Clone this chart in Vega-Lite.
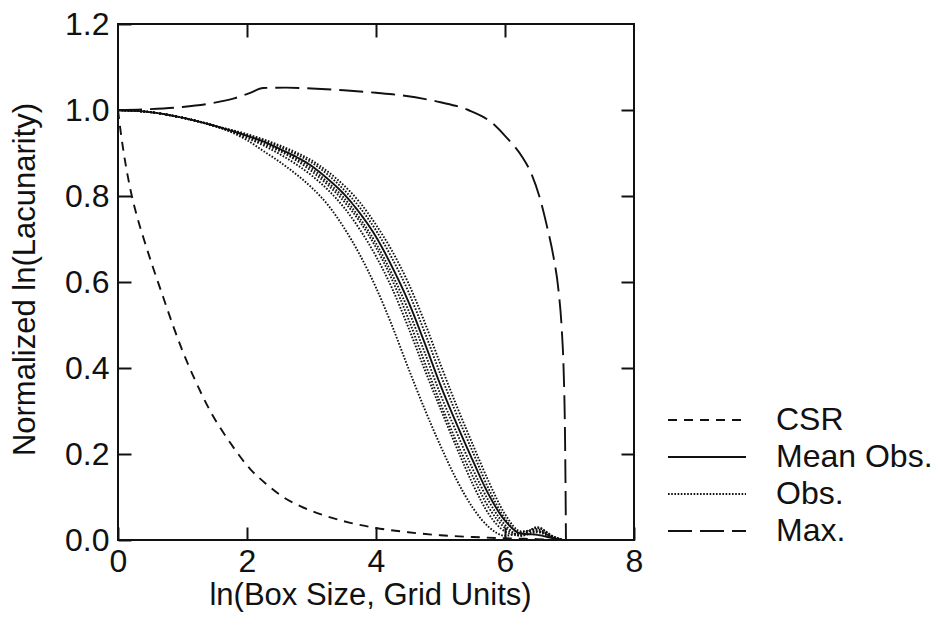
{
  "$schema": "https://vega.github.io/schema/vega-lite/v6.json",
  "width": 516,
  "height": 516,
  "autosize": {"type": "none"},
  "padding": {"left": 118, "top": 24, "right": 305, "bottom": 86},
  "background": "white",
  "config": {
    "view": {"stroke": "#111", "strokeWidth": 2},
    "font": "Liberation Sans",
    "axis": {
      "labelFont": "Liberation Sans",
      "titleFont": "Liberation Sans",
      "labelColor": "#111",
      "titleColor": "#111",
      "tickColor": "#111",
      "domain": false,
      "grid": false,
      "tickWidth": 2,
      "tickSize": -13
    },
    "legend": {
      "labelFont": "Liberation Sans",
      "labelColor": "#111"
    }
  },
  "data": {
    "values": [
      {"series": "CSR", "run": "c", "x": 0, "y": 1.0},
      {"series": "CSR", "run": "c", "x": 0.05, "y": 0.94},
      {"series": "CSR", "run": "c", "x": 0.1, "y": 0.89},
      {"series": "CSR", "run": "c", "x": 0.2, "y": 0.81},
      {"series": "CSR", "run": "c", "x": 0.3, "y": 0.75},
      {"series": "CSR", "run": "c", "x": 0.4, "y": 0.7},
      {"series": "CSR", "run": "c", "x": 0.54, "y": 0.635},
      {"series": "CSR", "run": "c", "x": 0.7, "y": 0.565},
      {"series": "CSR", "run": "c", "x": 0.85, "y": 0.5},
      {"series": "CSR", "run": "c", "x": 1.0, "y": 0.44},
      {"series": "CSR", "run": "c", "x": 1.2, "y": 0.37},
      {"series": "CSR", "run": "c", "x": 1.43, "y": 0.3},
      {"series": "CSR", "run": "c", "x": 1.74, "y": 0.226},
      {"series": "CSR", "run": "c", "x": 2.05, "y": 0.165},
      {"series": "CSR", "run": "c", "x": 2.3, "y": 0.13},
      {"series": "CSR", "run": "c", "x": 2.56, "y": 0.1},
      {"series": "CSR", "run": "c", "x": 2.85, "y": 0.077},
      {"series": "CSR", "run": "c", "x": 3.18, "y": 0.058},
      {"series": "CSR", "run": "c", "x": 3.6, "y": 0.04},
      {"series": "CSR", "run": "c", "x": 4.0, "y": 0.028},
      {"series": "CSR", "run": "c", "x": 4.5, "y": 0.018},
      {"series": "CSR", "run": "c", "x": 5.0, "y": 0.011},
      {"series": "CSR", "run": "c", "x": 5.5, "y": 0.007},
      {"series": "CSR", "run": "c", "x": 6.0, "y": 0.004},
      {"series": "CSR", "run": "c", "x": 6.5, "y": 0.002},
      {"series": "CSR", "run": "c", "x": 6.9, "y": 0.0},

      {"series": "Max.", "run": "x", "x": 0, "y": 1.0},
      {"series": "Max.", "run": "x", "x": 0.5, "y": 1.002},
      {"series": "Max.", "run": "x", "x": 1.0, "y": 1.007},
      {"series": "Max.", "run": "x", "x": 1.5, "y": 1.017},
      {"series": "Max.", "run": "x", "x": 1.8, "y": 1.027},
      {"series": "Max.", "run": "x", "x": 2.05, "y": 1.04},
      {"series": "Max.", "run": "x", "x": 2.25, "y": 1.051},
      {"series": "Max.", "run": "x", "x": 2.6, "y": 1.052},
      {"series": "Max.", "run": "x", "x": 3.0, "y": 1.05},
      {"series": "Max.", "run": "x", "x": 3.5, "y": 1.046},
      {"series": "Max.", "run": "x", "x": 4.0, "y": 1.04},
      {"series": "Max.", "run": "x", "x": 4.4, "y": 1.034},
      {"series": "Max.", "run": "x", "x": 5.0, "y": 1.018},
      {"series": "Max.", "run": "x", "x": 5.43, "y": 1.0},
      {"series": "Max.", "run": "x", "x": 5.8, "y": 0.97},
      {"series": "Max.", "run": "x", "x": 6.0, "y": 0.94},
      {"series": "Max.", "run": "x", "x": 6.27, "y": 0.89},
      {"series": "Max.", "run": "x", "x": 6.4, "y": 0.855},
      {"series": "Max.", "run": "x", "x": 6.55, "y": 0.79},
      {"series": "Max.", "run": "x", "x": 6.65, "y": 0.73},
      {"series": "Max.", "run": "x", "x": 6.75, "y": 0.66},
      {"series": "Max.", "run": "x", "x": 6.83, "y": 0.58},
      {"series": "Max.", "run": "x", "x": 6.88, "y": 0.49},
      {"series": "Max.", "run": "x", "x": 6.91, "y": 0.39},
      {"series": "Max.", "run": "x", "x": 6.93, "y": 0.25},
      {"series": "Max.", "run": "x", "x": 6.94, "y": 0.1},
      {"series": "Max.", "run": "x", "x": 6.945, "y": 0.0},

      {"series": "Mean Obs.", "run": "m", "x": 0, "y": 1.0},
      {"series": "Mean Obs.", "run": "m", "x": 0.5, "y": 0.995},
      {"series": "Mean Obs.", "run": "m", "x": 1.0, "y": 0.982},
      {"series": "Mean Obs.", "run": "m", "x": 1.5, "y": 0.963},
      {"series": "Mean Obs.", "run": "m", "x": 2.0, "y": 0.94},
      {"series": "Mean Obs.", "run": "m", "x": 2.25, "y": 0.927},
      {"series": "Mean Obs.", "run": "m", "x": 2.5, "y": 0.91},
      {"series": "Mean Obs.", "run": "m", "x": 2.75, "y": 0.892},
      {"series": "Mean Obs.", "run": "m", "x": 3.0, "y": 0.87},
      {"series": "Mean Obs.", "run": "m", "x": 3.25, "y": 0.84},
      {"series": "Mean Obs.", "run": "m", "x": 3.5, "y": 0.805},
      {"series": "Mean Obs.", "run": "m", "x": 3.75, "y": 0.76},
      {"series": "Mean Obs.", "run": "m", "x": 4.0, "y": 0.705},
      {"series": "Mean Obs.", "run": "m", "x": 4.25, "y": 0.635},
      {"series": "Mean Obs.", "run": "m", "x": 4.5, "y": 0.555},
      {"series": "Mean Obs.", "run": "m", "x": 4.75, "y": 0.46},
      {"series": "Mean Obs.", "run": "m", "x": 5.0, "y": 0.36},
      {"series": "Mean Obs.", "run": "m", "x": 5.25, "y": 0.27},
      {"series": "Mean Obs.", "run": "m", "x": 5.5, "y": 0.185},
      {"series": "Mean Obs.", "run": "m", "x": 5.75, "y": 0.105},
      {"series": "Mean Obs.", "run": "m", "x": 6.0, "y": 0.045},
      {"series": "Mean Obs.", "run": "m", "x": 6.25, "y": 0.015},
      {"series": "Mean Obs.", "run": "m", "x": 6.5, "y": 0.012},
      {"series": "Mean Obs.", "run": "m", "x": 6.75, "y": 0.004},
      {"series": "Mean Obs.", "run": "m", "x": 6.9, "y": 0.0},

      {"series": "Obs.", "run": "1", "x": 0, "y": 1.0},
      {"series": "Obs.", "run": "1", "x": 0.5, "y": 0.995},
      {"series": "Obs.", "run": "1", "x": 1.0, "y": 0.982},
      {"series": "Obs.", "run": "1", "x": 1.5, "y": 0.963},
      {"series": "Obs.", "run": "1", "x": 2.0, "y": 0.93},
      {"series": "Obs.", "run": "1", "x": 2.25, "y": 0.905},
      {"series": "Obs.", "run": "1", "x": 2.5, "y": 0.88},
      {"series": "Obs.", "run": "1", "x": 2.75, "y": 0.852},
      {"series": "Obs.", "run": "1", "x": 3.0, "y": 0.82},
      {"series": "Obs.", "run": "1", "x": 3.25, "y": 0.78},
      {"series": "Obs.", "run": "1", "x": 3.5, "y": 0.727},
      {"series": "Obs.", "run": "1", "x": 3.75, "y": 0.663},
      {"series": "Obs.", "run": "1", "x": 4.0, "y": 0.587},
      {"series": "Obs.", "run": "1", "x": 4.25, "y": 0.498},
      {"series": "Obs.", "run": "1", "x": 4.5, "y": 0.4},
      {"series": "Obs.", "run": "1", "x": 4.75, "y": 0.306},
      {"series": "Obs.", "run": "1", "x": 5.0, "y": 0.219},
      {"series": "Obs.", "run": "1", "x": 5.25, "y": 0.14},
      {"series": "Obs.", "run": "1", "x": 5.5, "y": 0.075},
      {"series": "Obs.", "run": "1", "x": 5.75, "y": 0.03},
      {"series": "Obs.", "run": "1", "x": 6.0, "y": 0.01},
      {"series": "Obs.", "run": "1", "x": 6.25, "y": 0.018},
      {"series": "Obs.", "run": "1", "x": 6.5, "y": 0.025},
      {"series": "Obs.", "run": "1", "x": 6.75, "y": 0.005},
      {"series": "Obs.", "run": "1", "x": 6.9, "y": 0.0},

      {"series": "Obs.", "run": "2", "x": 0, "y": 1.0},
      {"series": "Obs.", "run": "2", "x": 0.5, "y": 0.995},
      {"series": "Obs.", "run": "2", "x": 1.0, "y": 0.982},
      {"series": "Obs.", "run": "2", "x": 1.5, "y": 0.963},
      {"series": "Obs.", "run": "2", "x": 2.0, "y": 0.935},
      {"series": "Obs.", "run": "2", "x": 2.25, "y": 0.918},
      {"series": "Obs.", "run": "2", "x": 2.5, "y": 0.898},
      {"series": "Obs.", "run": "2", "x": 2.75, "y": 0.875},
      {"series": "Obs.", "run": "2", "x": 3.0, "y": 0.848},
      {"series": "Obs.", "run": "2", "x": 3.25, "y": 0.815},
      {"series": "Obs.", "run": "2", "x": 3.5, "y": 0.774},
      {"series": "Obs.", "run": "2", "x": 3.75, "y": 0.722},
      {"series": "Obs.", "run": "2", "x": 4.0, "y": 0.66},
      {"series": "Obs.", "run": "2", "x": 4.25, "y": 0.585},
      {"series": "Obs.", "run": "2", "x": 4.5, "y": 0.495},
      {"series": "Obs.", "run": "2", "x": 4.75, "y": 0.398},
      {"series": "Obs.", "run": "2", "x": 5.0, "y": 0.305},
      {"series": "Obs.", "run": "2", "x": 5.25, "y": 0.215},
      {"series": "Obs.", "run": "2", "x": 5.5, "y": 0.13},
      {"series": "Obs.", "run": "2", "x": 5.75, "y": 0.06},
      {"series": "Obs.", "run": "2", "x": 6.0, "y": 0.02},
      {"series": "Obs.", "run": "2", "x": 6.25, "y": 0.01},
      {"series": "Obs.", "run": "2", "x": 6.5, "y": 0.03},
      {"series": "Obs.", "run": "2", "x": 6.75, "y": 0.008},
      {"series": "Obs.", "run": "2", "x": 6.9, "y": 0.0},

      {"series": "Obs.", "run": "3", "x": 0, "y": 1.0},
      {"series": "Obs.", "run": "3", "x": 0.5, "y": 0.995},
      {"series": "Obs.", "run": "3", "x": 1.0, "y": 0.982},
      {"series": "Obs.", "run": "3", "x": 1.5, "y": 0.963},
      {"series": "Obs.", "run": "3", "x": 2.0, "y": 0.938},
      {"series": "Obs.", "run": "3", "x": 2.25, "y": 0.922},
      {"series": "Obs.", "run": "3", "x": 2.5, "y": 0.905},
      {"series": "Obs.", "run": "3", "x": 2.75, "y": 0.884},
      {"series": "Obs.", "run": "3", "x": 3.0, "y": 0.858},
      {"series": "Obs.", "run": "3", "x": 3.25, "y": 0.826},
      {"series": "Obs.", "run": "3", "x": 3.5, "y": 0.788},
      {"series": "Obs.", "run": "3", "x": 3.75, "y": 0.74},
      {"series": "Obs.", "run": "3", "x": 4.0, "y": 0.68},
      {"series": "Obs.", "run": "3", "x": 4.25, "y": 0.605},
      {"series": "Obs.", "run": "3", "x": 4.5, "y": 0.515},
      {"series": "Obs.", "run": "3", "x": 4.75, "y": 0.415},
      {"series": "Obs.", "run": "3", "x": 5.0, "y": 0.318},
      {"series": "Obs.", "run": "3", "x": 5.25, "y": 0.228},
      {"series": "Obs.", "run": "3", "x": 5.5, "y": 0.148},
      {"series": "Obs.", "run": "3", "x": 5.75, "y": 0.075},
      {"series": "Obs.", "run": "3", "x": 6.0, "y": 0.028},
      {"series": "Obs.", "run": "3", "x": 6.25, "y": 0.012},
      {"series": "Obs.", "run": "3", "x": 6.5, "y": 0.02},
      {"series": "Obs.", "run": "3", "x": 6.75, "y": 0.006},
      {"series": "Obs.", "run": "3", "x": 6.9, "y": 0.0},

      {"series": "Obs.", "run": "4", "x": 0, "y": 1.0},
      {"series": "Obs.", "run": "4", "x": 0.5, "y": 0.995},
      {"series": "Obs.", "run": "4", "x": 1.0, "y": 0.982},
      {"series": "Obs.", "run": "4", "x": 1.5, "y": 0.963},
      {"series": "Obs.", "run": "4", "x": 2.0, "y": 0.942},
      {"series": "Obs.", "run": "4", "x": 2.25, "y": 0.93},
      {"series": "Obs.", "run": "4", "x": 2.5, "y": 0.915},
      {"series": "Obs.", "run": "4", "x": 2.75, "y": 0.898},
      {"series": "Obs.", "run": "4", "x": 3.0, "y": 0.878},
      {"series": "Obs.", "run": "4", "x": 3.25, "y": 0.85},
      {"series": "Obs.", "run": "4", "x": 3.5, "y": 0.815},
      {"series": "Obs.", "run": "4", "x": 3.75, "y": 0.773},
      {"series": "Obs.", "run": "4", "x": 4.0, "y": 0.72},
      {"series": "Obs.", "run": "4", "x": 4.25, "y": 0.655},
      {"series": "Obs.", "run": "4", "x": 4.5, "y": 0.578},
      {"series": "Obs.", "run": "4", "x": 4.75, "y": 0.485},
      {"series": "Obs.", "run": "4", "x": 5.0, "y": 0.385},
      {"series": "Obs.", "run": "4", "x": 5.25, "y": 0.292},
      {"series": "Obs.", "run": "4", "x": 5.5, "y": 0.205},
      {"series": "Obs.", "run": "4", "x": 5.75, "y": 0.118},
      {"series": "Obs.", "run": "4", "x": 6.0, "y": 0.05},
      {"series": "Obs.", "run": "4", "x": 6.25, "y": 0.015},
      {"series": "Obs.", "run": "4", "x": 6.5, "y": 0.028},
      {"series": "Obs.", "run": "4", "x": 6.75, "y": 0.008},
      {"series": "Obs.", "run": "4", "x": 6.9, "y": 0.0},

      {"series": "Obs.", "run": "5", "x": 0, "y": 1.0},
      {"series": "Obs.", "run": "5", "x": 0.5, "y": 0.995},
      {"series": "Obs.", "run": "5", "x": 1.0, "y": 0.982},
      {"series": "Obs.", "run": "5", "x": 1.5, "y": 0.963},
      {"series": "Obs.", "run": "5", "x": 2.0, "y": 0.944},
      {"series": "Obs.", "run": "5", "x": 2.25, "y": 0.932},
      {"series": "Obs.", "run": "5", "x": 2.5, "y": 0.918},
      {"series": "Obs.", "run": "5", "x": 2.75, "y": 0.902},
      {"series": "Obs.", "run": "5", "x": 3.0, "y": 0.883},
      {"series": "Obs.", "run": "5", "x": 3.25, "y": 0.857},
      {"series": "Obs.", "run": "5", "x": 3.5, "y": 0.825},
      {"series": "Obs.", "run": "5", "x": 3.75, "y": 0.785},
      {"series": "Obs.", "run": "5", "x": 4.0, "y": 0.733},
      {"series": "Obs.", "run": "5", "x": 4.25, "y": 0.672},
      {"series": "Obs.", "run": "5", "x": 4.5, "y": 0.598},
      {"series": "Obs.", "run": "5", "x": 4.75, "y": 0.508},
      {"series": "Obs.", "run": "5", "x": 5.0, "y": 0.408},
      {"series": "Obs.", "run": "5", "x": 5.25, "y": 0.312},
      {"series": "Obs.", "run": "5", "x": 5.5, "y": 0.222},
      {"series": "Obs.", "run": "5", "x": 5.75, "y": 0.135},
      {"series": "Obs.", "run": "5", "x": 6.0, "y": 0.06},
      {"series": "Obs.", "run": "5", "x": 6.25, "y": 0.02},
      {"series": "Obs.", "run": "5", "x": 6.5, "y": 0.022},
      {"series": "Obs.", "run": "5", "x": 6.75, "y": 0.006},
      {"series": "Obs.", "run": "5", "x": 6.9, "y": 0.0},

      {"series": "Obs.", "run": "6", "x": 0, "y": 1.0},
      {"series": "Obs.", "run": "6", "x": 0.5, "y": 0.995},
      {"series": "Obs.", "run": "6", "x": 1.0, "y": 0.982},
      {"series": "Obs.", "run": "6", "x": 1.5, "y": 0.963},
      {"series": "Obs.", "run": "6", "x": 2.0, "y": 0.94},
      {"series": "Obs.", "run": "6", "x": 2.25, "y": 0.925},
      {"series": "Obs.", "run": "6", "x": 2.5, "y": 0.908},
      {"series": "Obs.", "run": "6", "x": 2.75, "y": 0.888},
      {"series": "Obs.", "run": "6", "x": 3.0, "y": 0.864},
      {"series": "Obs.", "run": "6", "x": 3.25, "y": 0.832},
      {"series": "Obs.", "run": "6", "x": 3.5, "y": 0.796},
      {"series": "Obs.", "run": "6", "x": 3.75, "y": 0.748},
      {"series": "Obs.", "run": "6", "x": 4.0, "y": 0.69},
      {"series": "Obs.", "run": "6", "x": 4.25, "y": 0.618},
      {"series": "Obs.", "run": "6", "x": 4.5, "y": 0.535},
      {"series": "Obs.", "run": "6", "x": 4.75, "y": 0.438},
      {"series": "Obs.", "run": "6", "x": 5.0, "y": 0.338},
      {"series": "Obs.", "run": "6", "x": 5.25, "y": 0.25},
      {"series": "Obs.", "run": "6", "x": 5.5, "y": 0.165},
      {"series": "Obs.", "run": "6", "x": 5.75, "y": 0.09},
      {"series": "Obs.", "run": "6", "x": 6.0, "y": 0.035},
      {"series": "Obs.", "run": "6", "x": 6.25, "y": 0.01},
      {"series": "Obs.", "run": "6", "x": 6.5, "y": 0.018},
      {"series": "Obs.", "run": "6", "x": 6.75, "y": 0.004},
      {"series": "Obs.", "run": "6", "x": 6.9, "y": 0.0}
    ]
  },
  "layer": [
    {
      "mark": {"type": "line", "interpolate": "monotone", "color": "#111", "strokeWidth": 1.9, "clip": true},
      "encoding": {
        "x": {
          "field": "x", "type": "quantitative",
          "scale": {"domain": [0, 8], "nice": false, "zero": false},
          "axis": {
            "orient": "bottom",
            "values": [0, 2, 4, 6, 8],
            "format": "d",
            "title": "ln(Box Size, Grid Units)",
            "labelFontSize": 32,
            "labelPadding": 19,
            "labelFlush": false,
            "titleFontSize": 31,
            "titleFontWeight": "normal",
            "titleX": 252,
            "titleY": 64,
            "titleBaseline": "alphabetic",
            "titleAlign": "center"
          }
        },
        "y": {
          "field": "y", "type": "quantitative",
          "scale": {"domain": [0, 1.2], "nice": false, "zero": false},
          "axis": {
            "orient": "left",
            "values": [0, 0.2, 0.4, 0.6, 0.8, 1.0, 1.2],
            "format": ".1f",
            "title": "Normalized ln(Lacunarity)",
            "labelFontSize": 32,
            "labelPadding": 22,
            "labelFlush": false,
            "titleFontSize": 31,
            "titleFontWeight": "normal",
            "titleX": -93,
            "titleY": 255,
            "titleAngle": -90,
            "titleBaseline": "middle",
            "titleAlign": "center"
          }
        },
        "strokeDash": {
          "field": "series", "type": "nominal",
          "scale": {
            "domain": ["CSR", "Mean Obs.", "Obs.", "Max."],
            "range": [[9, 7], [1, 0], [1.6, 1.6], [24, 8]]
          },
          "legend": {
            "title": null,
            "orient": "none",
            "legendX": 573,
            "legendY": 380,
            "padding": 0,
            "symbolType": "M-4,0H4",
            "symbolSize": 380,
            "symbolStrokeColor": "#111",
            "symbolStrokeWidth": 1.9,
            "labelFontSize": 32,
            "labelOffset": 53,
            "rowPadding": 5,
            "labelLimit": 300
          }
        },
        "detail": {"field": "run", "type": "nominal"}
      }
    },
    {
      "mark": {"type": "point", "opacity": 0},
      "encoding": {
        "x": {
          "field": "x", "type": "quantitative",
          "axis": {"orient": "top", "values": [2, 4, 6], "labels": false, "title": null}
        },
        "y": {
          "field": "y", "type": "quantitative",
          "axis": {"orient": "right", "values": [0.2, 0.4, 0.6, 0.8, 1.0], "labels": false, "title": null}
        }
      }
    }
  ]
}
